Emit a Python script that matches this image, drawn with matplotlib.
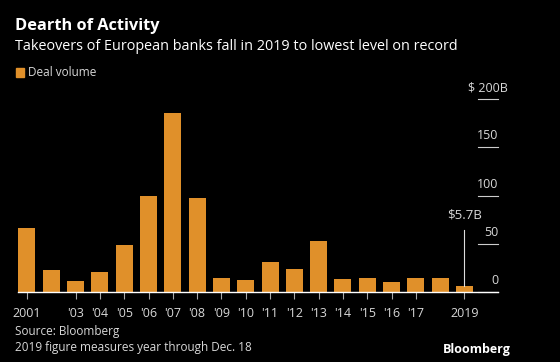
import matplotlib.pyplot as plt
import matplotlib.transforms as mtransforms

years = list(range(2001, 2020))
volume = [66, 23, 11.5, 21, 49, 100, 186, 97, 14, 12, 31, 24, 53, 13, 14, 10.5, 15, 14, 5.7]
tick_labels = ['2001', '', "'03", "'04", "'05", "'06", "'07", "'08", "'09", "'10",
               "'11", "'12", "'13", "'14", "'15", "'16", "'17", '', '2019']
y_ticks = [0, 50, 100, 150, 200]
y_labels = ['0', '50', '100', '150', '$ 200B']

BG = '#000000'
ORANGE = '#E0902A'
TXT = '#d8d8d8'

plt.rcParams['font.family'] = ['Open Sans', 'DejaVu Sans']

fig = plt.figure(figsize=(5.6, 3.62), dpi=100, facecolor=BG)
ax = fig.add_axes([18 / 560, 70 / 362, 480 / 560, 193 / 362], facecolor=BG)

x = list(range(len(years)))
ax.bar(x, volume, width=0.7, color=ORANGE, zorder=2)
ax.set_xlim(-0.37, 19.38)
ax.set_ylim(0, 200)

for s in ['top', 'right', 'left']:
    ax.spines[s].set_visible(False)
ax.spines['bottom'].set_color('#ffffff')
ax.spines['bottom'].set_linewidth(1.0)

tx = [i for i, l in enumerate(tick_labels) if l]
ax.set_xticks(tx)
ax.set_xticklabels([tick_labels[i] for i in tx])
ax.tick_params(axis='x', colors='#aaaaaa', length=5, width=0.8, labelcolor=TXT,
               labelsize=9, pad=6)
ax.set_yticks([])

# right side y labels above short lines
trans = mtransforms.blended_transform_factory(ax.transAxes, ax.transData)
for v, lab in zip(y_ticks, y_labels):
    ax.plot([0.958, 1.0], [v, v], color='#cccccc', lw=0.8, transform=trans,
            clip_on=False, zorder=1)
    xr = 1.0 if lab[-1] != 'B' else 1.0 + 10 / 480
    ax.text(xr, v + 5, lab, transform=trans, ha='right', va='bottom',
            color=TXT, fontsize=9)

# annotation for 2019
ax.plot([18, 18], [6.5, 64], color='#dddddd', lw=0.8, zorder=3)
ax.text(18, 73, '$5.7B', ha='center', va='bottom', color=TXT, fontsize=9.5)

fig.text(15 / 560, 1 - 26 / 362, 'Dearth of Activity', color='#ffffff',
         fontsize=11.8, fontweight='bold', va='center', ha='left')
fig.text(15 / 560, 1 - 46 / 362,
         'Takeovers of European banks fall in 2019 to lowest level on record',
         color='#ffffff', fontsize=10.4, va='center', ha='left')

fig.patches.append(plt.Rectangle((16 / 560, 1 - 77 / 362), 8 / 560, 9 / 362,
                                 transform=fig.transFigure, color=ORANGE))
fig.text(28 / 560, 1 - 72.5 / 362, 'Deal volume', color=TXT, fontsize=8.5,
         va='center', ha='left')

fig.text(15 / 560, 1 - 332 / 362, 'Source: Bloomberg', color=TXT, fontsize=8.5,
         va='center', ha='left')
fig.text(15 / 560, 1 - 347 / 362, '2019 figure measures year through Dec. 18',
         color=TXT, fontsize=8.5, va='center', ha='left')
fig.text(511 / 560, 1 - 350 / 362, 'Bloomberg', color='#ffffff', fontsize=9,
         fontweight='bold', va='center', ha='right')

fig.savefig('out.png', dpi=100, facecolor=BG)
